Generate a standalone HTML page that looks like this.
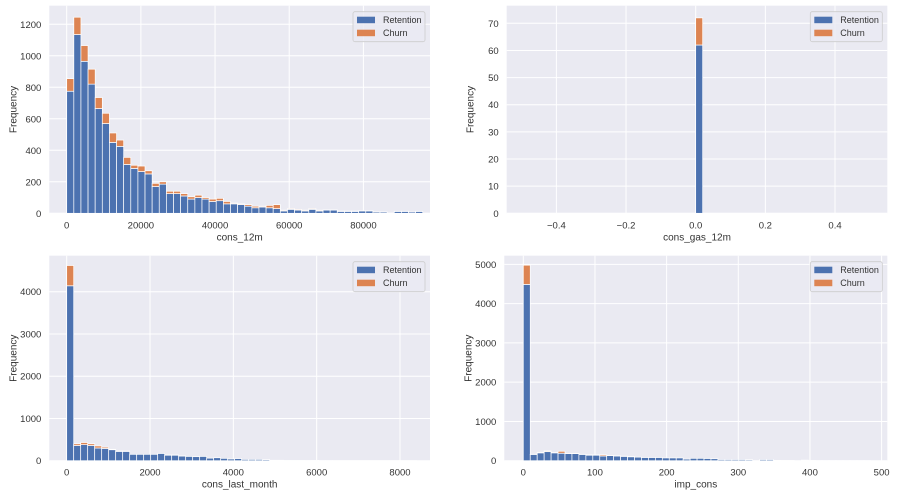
<!DOCTYPE html>
<html><head><meta charset="utf-8">
<style>
html,body{margin:0;padding:0;background:#fff;}
svg{display:block;font-family:"Liberation Sans",sans-serif;}
</style></head>
<body>
<svg id="chart" width="908" height="498" viewBox="0 0 908 498" xmlns="http://www.w3.org/2000/svg"></svg>
<script>
// ---- data: cons_12m ----
const cons12mRetention = [775,1135,965,820,665,570,450,425,310,285,265,250,170,185,125,125,110,90,100,90,75,80,60,60,55,45,35,40,35,30,15,25,20,15,25,15,20,20,12,12,12,15,15,8,8,0,12,12,8,12];
const cons12mChurn = [80,110,100,95,70,65,60,40,45,20,35,20,20,15,15,15,15,15,15,10,15,15,15,5,5,10,10,5,15,25,5,5,5,5,5,5,2,2,2,2,2,1,1,1,1,0,1,1,0,1];
const cons12mTicks = [0,20000,40000,60000,80000];
const cons12mYTicks = [0,200,400,600,800,1000,1200];
// ---- data: cons_gas_12m ----
const gasRetention = [62];
const gasChurn = [10];
const gasTicks = [-0.4,-0.2,0.0,0.2,0.4];
const gasTickLabels = ["−0.4","−0.2","0.0","0.2","0.4"];
const gasYTicks = [0,10,20,30,40,50,60,70];
// ---- data: cons_last_month ----
const lastMonthRetention = [4140,360,380,360,300,290,260,220,220,150,150,150,150,170,130,130,110,100,95,100,60,70,55,40,50,30,30,30,25,10,10,5,5,5,3,8,2,2,1,1,1,1,1,1,1,1,1,1,1,1];
const lastMonthChurn = [480,40,50,40,50,30,10,10,10,0,0,0,0,0,5,5,5,0,0,0,0,0,0,0,0,0,0,0,0,0,0,0,0,0,0,0,0,0,0,0,0,0,0,0,0,0,0,0,0,0];
const lastMonthTicks = [0,2000,4000,6000,8000];
const lastMonthYTicks = [0,1000,2000,3000,4000];
// ---- data: imp_cons ----
const impRetention = [4490,160,200,230,200,190,180,180,160,140,140,120,130,120,110,100,90,80,80,80,70,70,70,40,60,60,55,50,30,30,30,30,25,0,30,30,10,5,5,0,15,5,3,3,3,3,3,3,3,3];
const impChurn = [490,5,10,20,10,50,5,5,5,10,10,30,5,5,5,5,0,0,0,0,0,0,0,0,0,0,0,0,0,0,0,0,0,0,0,0,0,0,0,0,0,0,0,0,0,0,0,0,0,0];
const impTicks = [0,100,200,300,400,500];
const impYTicks = [0,1000,2000,3000,4000,5000];

const NS="http://www.w3.org/2000/svg";
const svg=document.getElementById('chart');
function mk(tag,attrs,parent){const e=document.createElementNS(NS,tag);for(const k in attrs)e.setAttribute(k,attrs[k]);(parent||svg).appendChild(e);return e;}

const panels=[
 {key:'cons-12m',label:'cons_12m',L:49.3,R:430,T:5.7,B:213.3,x0:66.7,xk:296.7/80000,yk:189/1200,
  ret:cons12mRetention,churn:cons12mChurn,binStart:0,binW:1920,xt:cons12mTicks,xl:cons12mTicks.map(String),yt:cons12mYTicks},
 {key:'cons-gas-12m',label:'cons_gas_12m',L:506.7,R:887.3,T:5.7,B:213.3,x0:695.7,xk:348.3,yk:190/70,
  ret:gasRetention,churn:gasChurn,binStart:0,binW:0.02,xt:gasTicks,xl:gasTickLabels,yt:gasYTicks},
 {key:'cons-last-month',label:'cons_last_month',L:49.3,R:430,T:255.7,B:460.7,x0:66.7,xk:333.3/8000,yk:169/4000,
  ret:lastMonthRetention,churn:lastMonthChurn,binStart:0,binW:168,xt:lastMonthTicks,xl:lastMonthTicks.map(String),yt:lastMonthYTicks},
 {key:'imp-cons',label:'imp_cons',L:504.3,R:887.3,T:255.7,B:460.7,x0:523.3,xk:358.3/500,yk:196.3/5000,
  ret:impRetention,churn:impChurn,binStart:0,binW:9.7,xt:impTicks,xl:impTicks.map(String),yt:impYTicks}
];

panels.forEach(p=>{
  const g=mk('g',{});
  
  
  const X=v=>p.x0+v*p.xk, Y=v=>p.B-v*p.yk;
  const bg=mk('rect',{x:p.L,y:p.T,width:p.R-p.L,height:p.B-p.T,fill:'#eaeaf2'},g);
  
  
  p.yt.forEach((t,i)=>{
    const y=Y(t);
    mk('line',{x1:p.L,x2:p.R,y1:y,y2:y,stroke:'#fff','stroke-width':1},g);
    const tx=mk('text',{x:p.L-8,y:y+3.5,'text-anchor':'end','font-size':9.5,fill:'#333'},g);
    tx.textContent=String(t);
    
    
  });
  p.xt.forEach((t,i)=>{
    const x=X(t);
    mk('line',{x1:x,x2:x,y1:p.T,y2:p.B,stroke:'#fff','stroke-width':1},g);
    const tx=mk('text',{x:x,y:p.B+15,'text-anchor':'middle','font-size':9.5,fill:'#333'},g);
    tx.textContent=p.xl[i];
    
    
  });
  p.ret.forEach((r,i)=>{
    const c=p.churn[i]||0;
    const xa=X(p.binStart+i*p.binW), xb=X(p.binStart+(i+1)*p.binW);
    if(r>0){
      const b=mk('rect',{x:xa,y:Y(r),width:xb-xa,height:Y(0)-Y(r),fill:'#4c72b0',stroke:'#fff','stroke-width':0.7},g);
      
      
    }
    if(c>0){
      const b=mk('rect',{x:xa,y:Y(r+c),width:xb-xa,height:Y(r)-Y(r+c),fill:'#dd8452',stroke:'#fff','stroke-width':0.7},g);
      
      
    }
  });
  const xl=mk('text',{x:(p.L+p.R)/2,y:p.B+27,'text-anchor':'middle','font-size':10,fill:'#333'},g);
  xl.textContent=p.label;
  
  
  const yx=p.L-33, yy=(p.T+p.B)/2;
  const yl=mk('text',{x:yx,y:yy,'text-anchor':'middle','font-size':10,fill:'#333',transform:`rotate(-90 ${yx} ${yy})`},g);
  yl.textContent='Frequency';
  
  
  const lx=p.R-77, ly=p.T+6;
  const lg=mk('g',{},g);
  
  
  mk('rect',{x:lx,y:ly,width:72,height:30,rx:2,fill:'#eaeaf2',stroke:'#ccc','stroke-width':0.8,'fill-opacity':0.8},lg);
  [['Retention','#4c72b0'],['Churn','#dd8452']].forEach((e,i)=>{
    const ent=mk('g',{},lg);
    
    
    mk('rect',{x:lx+4,y:ly+5+i*13,width:18,height:6.5,fill:e[1]},ent);
    const t=mk('text',{x:lx+30,y:ly+11.5+i*13,'font-size':9,fill:'#333'},ent);
    t.textContent=e[0];
  });
});
</script>
</body></html>
